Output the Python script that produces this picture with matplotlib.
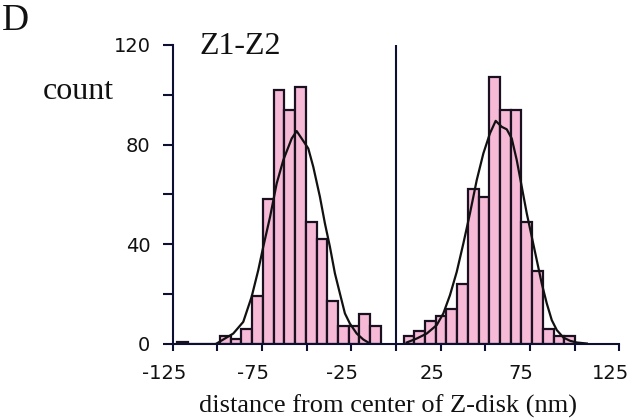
import numpy as np
import matplotlib
matplotlib.use("Agg")
import matplotlib.pyplot as plt
from matplotlib.transforms import ScaledTranslation

plt.rcParams["axes.unicode_minus"] = False

# ---- data ----
bin_width = 6
left_start = -122.5
left_counts = [0.5, 0, 0, 0, 3, 2, 6, 19, 58, 102, 94, 103, 49, 42, 17, 7, 7, 12, 7]
right_start = 4.2
right_counts = [3, 5, 9, 11, 14, 24, 62, 59, 107, 94, 94, 49, 29, 6, 3, 3]

left_fit_x = [-100.4, -96.7, -91.1, -85.5, -80.8, -77.1, -74.3, -70.5, -66.8, -63.1,
              -58.4, -55.6, -52.8, -49.1, -46.3, -42.6, -39.8, -37.0, -34.2, -31.4,
              -28.6, -25.8, -22.0, -18.3, -14.6]
left_fit_y = [0, 1.6, 4.0, 8.7, 18.8, 29.5, 38.9, 50.9, 64.3, 73.7,
              82.4, 85.4, 82.4, 78.4, 71.0, 59.0, 48.3, 38.9, 28.2, 20.1,
              12.1, 8.0, 4.0, 1.6, 0]
right_fit_x = [6.0, 11.6, 17.2, 22.8, 26.5, 30.2, 34.0, 37.7, 41.4, 45.2,
               48.9, 52.6, 55.8, 59.2, 62.0, 64.8, 67.6, 70.4, 73.2, 76.0,
               78.8, 81.6, 84.4, 87.2, 90.0, 93.7, 97.4, 101.2, 106.8]
right_fit_y = [0.4, 2.0, 4.0, 7.4, 12.1, 19.4, 28.8, 40.2, 52.3, 65.7,
               76.4, 84.5, 89.5, 87.1, 86.1, 82.4, 73.7, 63.0, 52.3, 42.9,
               33.5, 24.1, 16.1, 9.4, 5.4, 2.4, 1.1, 0.4, 0]

xticks_major = [-125, -75, -25, 25, 75, 125]
xticks_minor = [-100, -50, 0, 50, 100]
yticks_major = [0, 40, 80, 120]
yticks_minor = [20, 60, 100]

panel_label = "D"
title_text = "Z1-Z2"
ylabel_text = "count"
xlabel_text = "distance from center of Z-disk (nm)"

# ---- styling ----
W, H = 640, 420
pink = "#f6b9d6"
edge = "#1a1020"
axcol = "#0d1030"
serif = ["Liberation Serif", "DejaVu Serif"]

fig = plt.figure(figsize=(W / 100, H / 100), dpi=100)
x0, x1 = 172.7, 619.3
y0, y1 = 343.5, 45.0
ax = fig.add_axes([x0 / W, 1 - y0 / H, (x1 - x0) / W, (y0 - y1) / H])

le = left_start + bin_width * np.arange(len(left_counts))
re = right_start + bin_width * np.arange(len(right_counts))
ax.bar(le, left_counts, width=bin_width, align="edge", color=pink,
       edgecolor=edge, linewidth=1.6, zorder=2)
ax.bar(re, right_counts, width=bin_width, align="edge", color=pink,
       edgecolor=edge, linewidth=1.6, zorder=2)
ax.plot(left_fit_x, left_fit_y, color="#111111", lw=1.6, zorder=3,
        solid_joinstyle="round")
ax.plot(right_fit_x, right_fit_y, color="#111111", lw=1.6, zorder=3,
        solid_joinstyle="round")
ax.axvline(0, color=axcol, lw=1.5, zorder=4)

ax.set_xlim(-125, 125)
ax.set_ylim(0, 120)
for s in ["top", "right"]:
    ax.spines[s].set_visible(False)
for s in ["left", "bottom"]:
    ax.spines[s].set_color(axcol)
    ax.spines[s].set_linewidth(1.5)
    ax.spines[s].set_zorder(5)

ax.set_xticks(xticks_major)
ax.set_xticks(xticks_minor, minor=True)
ax.set_yticks(yticks_major)
ax.set_yticks(yticks_minor, minor=True)
ax.tick_params(axis="x", which="both", direction="out", length=5, width=1.5,
               color=axcol, pad=10, labelsize=14)
ax.tick_params(axis="y", which="both", direction="out", length=7, width=1.5,
               color=axcol, pad=9, labelsize=14)
shift = ScaledTranslation(-9 / 100, 0, fig.dpi_scale_trans)
for lab in ax.get_xticklabels():
    lab.set_transform(lab.get_transform() + shift)
for lab in ax.get_xticklabels() + ax.get_yticklabels():
    lab.set_fontfamily("DejaVu Sans")
    lab.set_color("#111111")

fig.text(2 / W, 1 - 30 / H, panel_label, fontsize=27, family=serif,
         color="#111111", ha="left", va="baseline")
fig.text(199 / W, 1 - 54 / H, title_text, fontsize=23, family=serif,
         color="#111111", ha="left", va="baseline")
fig.text(43 / W, 1 - 99 / H, ylabel_text, fontsize=23, family=serif,
         color="#111111", ha="left", va="baseline")
fig.text(388 / W, 1 - 413 / H, xlabel_text, fontsize=19, family=serif,
         color="#111111", ha="center", va="baseline")

fig.savefig("out.png", dpi=100, facecolor="white")
